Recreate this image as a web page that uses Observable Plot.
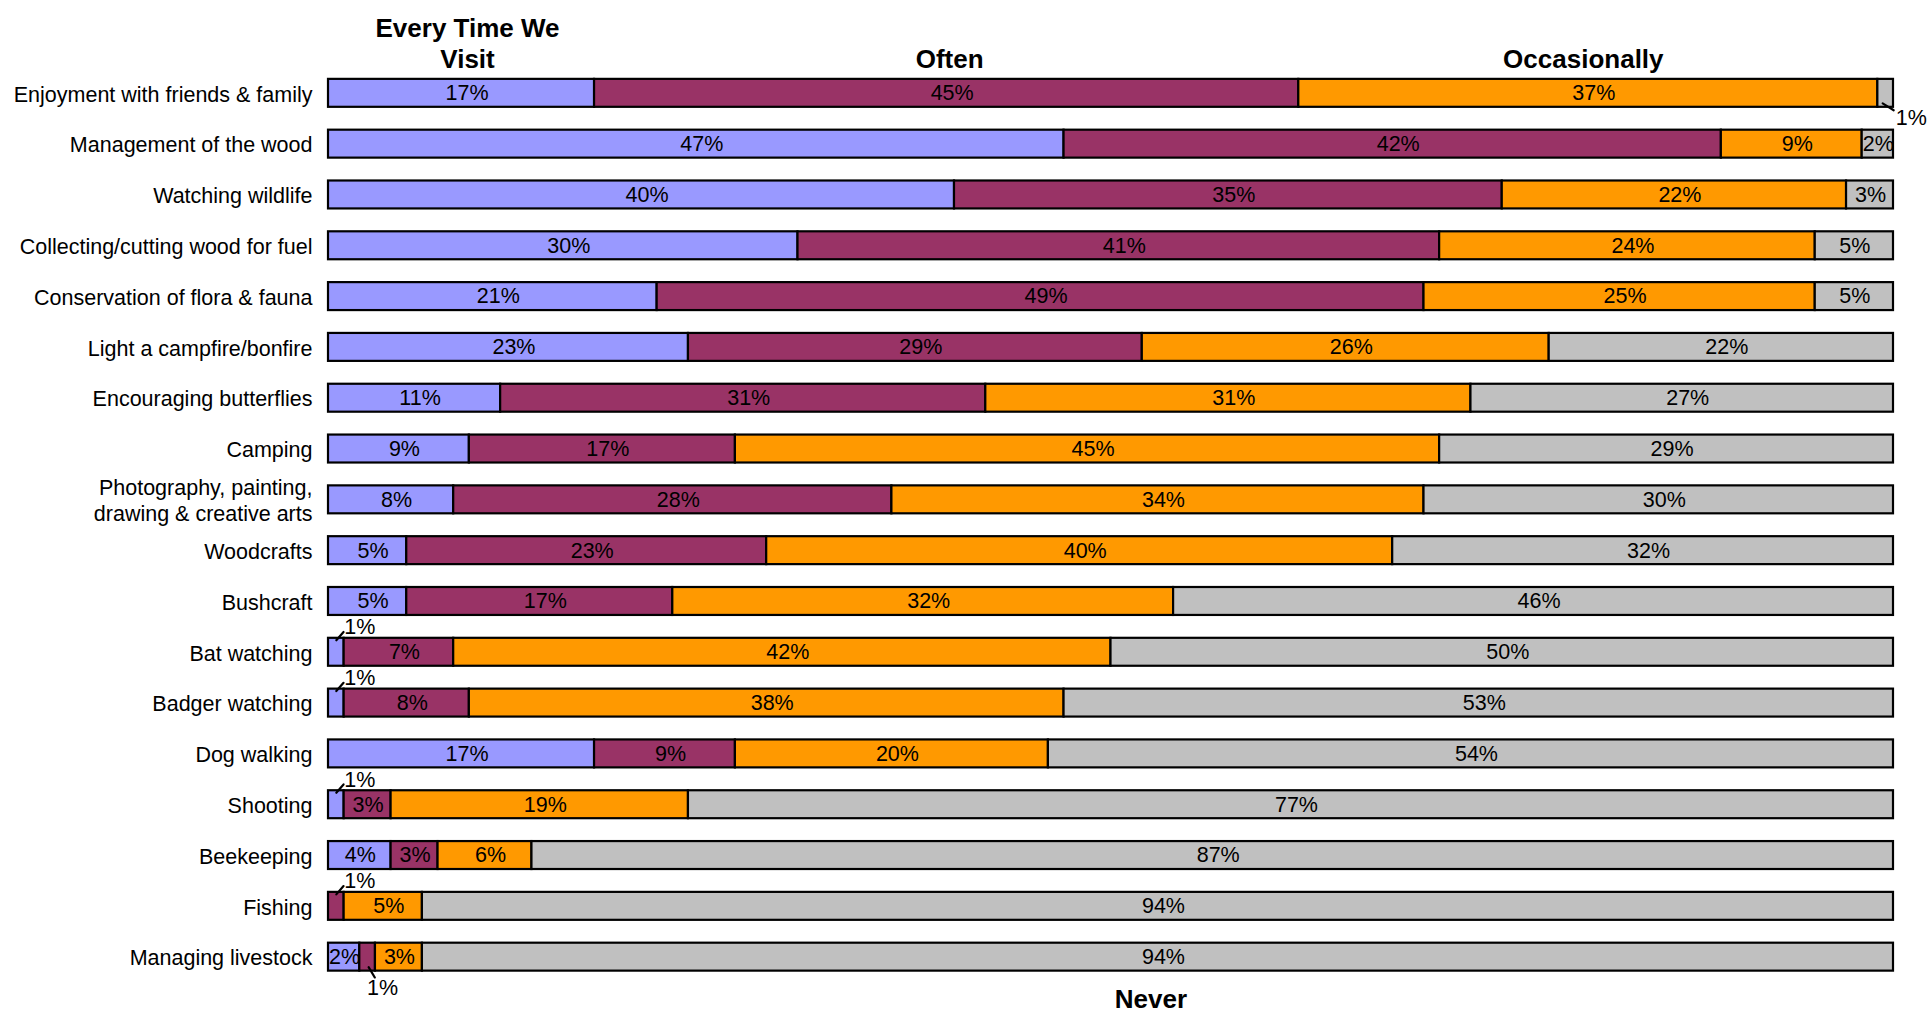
<!DOCTYPE html>
<html>
<head>
<meta charset="utf-8">
<script src="https://cdn.jsdelivr.net/npm/d3@7"></script>
<script src="https://cdn.jsdelivr.net/npm/@observablehq/plot@0.6"></script>
<style>
  html, body { margin: 0; padding: 0; background: #fff; }
  #chart svg { display: block; }
</style>
</head>
<body>
<div id="chart"></div>
<script>
// ---- Data ----
const categories = [
  "Enjoyment with friends & family",
  "Management of the wood",
  "Watching wildlife",
  "Collecting/cutting wood for fuel",
  "Conservation of flora & fauna",
  "Light a campfire/bonfire",
  "Encouraging butterflies",
  "Camping",
  "Photography, painting,\ndrawing & creative arts",
  "Woodcrafts",
  "Bushcraft",
  "Bat watching",
  "Badger watching",
  "Dog walking",
  "Shooting",
  "Beekeeping",
  "Fishing",
  "Managing livestock"
];
const seriesNames = ["Every Time We Visit", "Often", "Occasionally", "Never"];
const seriesLabels = ["Every Time We\nVisit", "Often", "Occasionally", "Never"];
const everyTime    = [17, 47, 40, 30, 21, 23, 11,  9,  8,  5,  5,  1,  1, 17,  1,  4,  0,  2];
const often        = [45, 42, 35, 41, 49, 29, 31, 17, 28, 23, 17,  7,  8,  9,  3,  3,  1,  1];
const occasionally = [37,  9, 22, 24, 25, 26, 31, 45, 34, 40, 32, 42, 38, 20, 19,  6,  5,  3];
const never        = [ 1,  2,  3,  5,  5, 22, 27, 29, 30, 32, 46, 50, 53, 54, 77, 87, 94, 94];
const seriesColors = ["#9999FF", "#993366", "#FF9900", "#C0C0C0"];

// ---- Build table ----
const seriesValues = [everyTime, often, occasionally, never];
const rows = [];
categories.forEach((cat, i) => {
  let acc = 0;
  seriesNames.forEach((s, j) => {
    const v = seriesValues[j][i];
    rows.push({cat, row: i, series: s, si: j, value: v, x1: acc, x2: acc + v, mid: acc + v / 2});
    acc += v;
  });
});
const last = categories.length - 1;
const bars = rows.filter(d => d.value > 0);
const inside = rows.filter(d => d.value >= 2);
// wider segments get their label nudged right (as in the source rendering)
const nudged = d => d.value >= 7 || (d.value >= 5 && d.x2 < 100);
const insideWide = inside.filter(nudged);
const insideNarrow = inside.filter(d => !nudged(d));
const small = rows.filter(d => d.value === 1);
const smallRight = small.filter(d => d.row === 0);
const smallBelow = small.filter(d => d.row === last);
const smallAbove = small.filter(d => d.row !== 0 && d.row !== last);

const headers = seriesNames.map((s, j) => {
  const r = j < 3 ? 0 : last;
  const d = rows.find(e => e.row === r && e.si === j);
  return {...d, label: seriesLabels[j]};
});

const line = {draw(ctx, l) { ctx.moveTo(0, 0); ctx.lineTo(0, -l); }};
const font = "'Liberation Sans', Arial, Helvetica, sans-serif";
const fs = 21.5;
const headerNudge = [6, 3, -5, -7];

const headerMarks = headers.map((h, j) => j < 3
  ? Plot.text([h], {x: "mid", y: "cat", text: "label", lineAnchor: "bottom", lineHeight: 1.22, dy: -25, dx: headerNudge[j], fontWeight: "bold", fontSize: 26, fill: "#000"})
  : Plot.text([h], {x: "mid", y: "cat", text: "label", dy: 43, dx: headerNudge[j], fontWeight: "bold", fontSize: 26, fill: "#000"}));

const chart = Plot.plot({
  width: 1927,
  height: 1012,
  marginLeft: 328,
  marginRight: 34,
  marginTop: 56,
  marginBottom: 18.5,
  x: {domain: [0, 100], axis: null},
  y: {domain: categories, padding: 0.45, round: false, axis: null},
  color: {domain: seriesNames, range: seriesColors},
  style: {fontFamily: font, fontSize: fs + "px", background: "#fff", color: "#000", overflow: "visible"},
  marks: [
    Plot.barX(bars, {x1: "x1", x2: "x2", y: "cat", fill: "series", stroke: "#000", strokeWidth: 2.2}),
    Plot.text(insideWide, {x: "mid", y: "cat", text: d => d.value + "%", dx: 5.5, fill: "#000", fontSize: fs}),
    Plot.text(insideNarrow, {x: "mid", y: "cat", text: d => d.value + "%", dx: 0.5, fill: "#000", fontSize: fs}),
    // 1% annotations with leader lines
    Plot.vector(smallRight, {x: "mid", y: "cat", anchor: "start", rotate: 122, length: 13, dx: -3, dy: 10, shape: line, stroke: "#000", strokeWidth: 2.2}),
    Plot.text(smallRight, {x: "mid", y: "cat", text: d => d.value + "%", textAnchor: "start", dx: 10, dy: 25, fill: "#000", fontSize: fs}),
    Plot.vector(smallAbove, {x: "mid", y: "cat", anchor: "start", rotate: 41, length: 11, dx: 0, dy: -12, shape: line, stroke: "#000", strokeWidth: 2.2}),
    Plot.text(smallAbove, {x: "mid", y: "cat", text: d => d.value + "%", textAnchor: "start", dx: 8, dy: -25, fill: "#000", fontSize: fs}),
    Plot.vector(smallBelow, {x: "mid", y: "cat", anchor: "start", rotate: 149, length: 12, dx: 1, dy: 10, shape: line, stroke: "#000", strokeWidth: 2.2}),
    Plot.text(smallBelow, {x: "mid", y: "cat", text: d => d.value + "%", textAnchor: "middle", dx: 15, dy: 31, fill: "#000", fontSize: fs}),
    ...headerMarks,
    Plot.axisY({tickSize: 0, tickPadding: 16, fontSize: fs, lineHeight: 1.2, label: null})
  ]
});
document.getElementById("chart").appendChild(chart);
</script>
</body>
</html>
